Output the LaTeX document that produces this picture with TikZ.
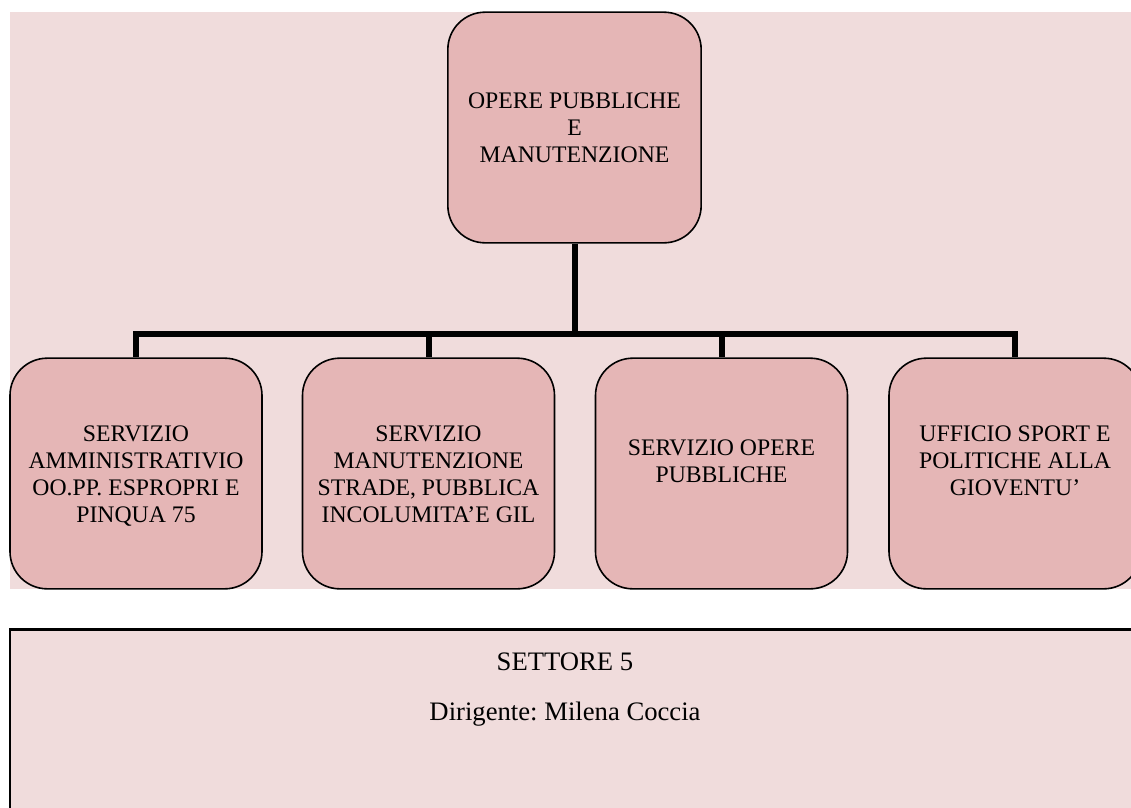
\documentclass[tikz,border=0pt]{standalone}
\usepackage{fontspec}
\setmainfont{Liberation Serif}
\frenchspacing

\definecolor{sfondo}{RGB}{240,220,220}
\definecolor{riquadro}{RGB}{229,182,182}

\begin{document}
\begin{tikzpicture}[x=0.75pt,y=-0.75pt,semithick]
        \tikzstyle{ufficio}=[draw=black,fill=riquadro,line width=1.2pt,rounded corners=28pt,minimum width=189pt,minimum height=173pt,inner sep=0pt]
        \tikzstyle{testo}=[align=center,font=\fontsize{17.8}{20.25}\selectfont,inner sep=0pt,anchor=north]
        \tikzstyle{ramo}=[line width=4.5pt]
        \tikzstyle{settore}=[font=\fontsize{20}{24}\selectfont,inner sep=0pt,anchor=base]
        \useasboundingbox (0,0) rectangle (1131,807);
        \clip (0,0) rectangle (1131,807);
        \fill[sfondo] (10,12) rectangle (1140,589);
        \node[ufficio,minimum width=190pt,align=center,font=\fontsize{17.8}{20.25}\selectfont] (dir) at (574.5,127.5) {OPERE PUBBLICHE\\E\\MANUTENZIONE};
        \node[ufficio] (s1) at (136,473.5) {};
        \node[ufficio] (s2) at (428.5,473.5) {};
        \node[ufficio] (s3) at (721.5,473.5) {};
        \node[ufficio] (s4) at (1015,473.5) {};
        \node[testo] (t1) at ([yshift=-51pt]s1.north) {SERVIZIO\\AMMINISTRATIVIO\\OO.PP. ESPROPRI E\\PINQUA 75};
        \node[testo] (t2) at ([yshift=-51pt]s2.north) {SERVIZIO\\MANUTENZIONE\\STRADE, PUBBLICA\\INCOLUMITA’E GIL};
        \node[testo] (t3) at ([yshift=-61.5pt]s3.north) {SERVIZIO OPERE\\PUBBLICHE};
        \node[testo] (t4) at ([yshift=-51pt]s4.north) {UFFICIO SPORT E\\POLITICHE ALLA\\GIOVENTU’};
        \coordinate (snodo) at (574.5,334);
        \draw[ramo] (dir.south) -- (snodo);
        \foreach \s in {s1,s2,s3,s4}
            \draw[ramo] (snodo) -| (\s.north);
        \node[draw=black,fill=sfondo,line width=2.2pt,anchor=north west,minimum width=860pt,minimum height=150pt] (riquadro) at (8.5,628) {};
        \node[settore] (titolo) at (565,670) {SETTORE 5};
        \node[settore] (dirigente) at (565,720) {Dirigente: Milena Coccia};
\end{tikzpicture}
\end{document}
